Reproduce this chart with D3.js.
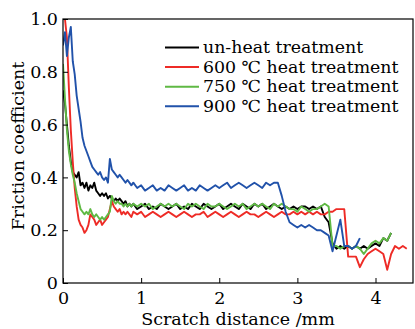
<!DOCTYPE html>
<html>
<head>
<meta charset="utf-8">
<script src="https://cdn.jsdelivr.net/npm/d3@7"></script>
<style>
  html, body { margin: 0; padding: 0; background: #fff; }
  svg { display: block; }
  text { font-family: "DejaVu Serif", serif; fill: #000; }
</style>
</head>
<body>
<svg id="chart" width="415" height="329"></svg>
<script>
// ---------- data ----------
const distance = [
  0,0.025,0.05,0.075,0.1,0.125,0.15,0.175,0.2,0.225,
  0.25,0.275,0.3,0.325,0.35,0.375,0.4,0.425,0.45,0.475,
  0.5,0.525,0.55,0.575,0.6,0.625,0.65,0.675,0.7,0.725,
  0.75,0.775,0.8,0.825,0.85,0.875,0.9,
  0.95,1.0,1.05,1.1,1.15,1.2,1.25,1.3,1.35,1.4,
  1.45,1.5,1.55,1.6,1.65,1.7,1.75,1.8,1.85,1.9,
  1.95,2.0,2.05,2.1,2.15,2.2,2.25,2.3,2.35,2.4,
  2.45,2.5,2.55,2.6,2.65,2.7,2.75,2.8,2.85,2.9,
  2.95,3.0,3.05,3.1,3.15,3.2,3.25,3.3,3.35,3.4,
  3.45,3.5,3.55,3.6,3.65,3.7,3.75,3.8,3.85,3.9,
  3.95,4.0,4.05,4.1,4.15,4.2,4.25,4.3,4.35,4.4,
  4.45
];

const unHeat = [
  0.73,0.68,0.60,0.52,0.46,0.42,0.41,0.40,0.42,0.37,
  0.38,0.36,0.38,0.35,0.37,0.36,0.38,0.35,0.34,0.33,
  0.34,0.33,0.34,0.32,0.33,0.32,0.31,0.32,0.31,0.32,
  0.31,0.30,0.31,0.29,0.30,0.29,0.30,
  0.28,0.29,0.30,0.28,0.29,0.28,0.30,0.29,0.28,0.29,
  0.30,0.28,0.29,0.28,0.30,0.29,0.28,0.30,0.29,0.28,
  0.29,0.30,0.28,0.29,0.30,0.29,0.28,0.30,0.29,0.28,
  0.30,0.29,0.30,0.28,0.29,0.30,0.29,0.28,0.29,0.28,
  0.29,0.28,0.29,0.29,0.28,0.29,0.28,0.29,0.25,0.23,
  0.15,0.13,0.14,0.13,0.14,0.13,0.14,0.13,0.14,0.13,
  0.14,0.15,0.14,0.17,0.16,0.19,null,null,null,null,
  null
];

const heat600 = [
  1.02,1.00,0.93,0.74,0.58,0.46,0.36,0.29,0.24,0.22,
  0.21,0.19,0.20,0.22,0.26,0.25,0.24,0.22,0.23,0.24,
  0.22,0.23,0.24,0.25,0.28,0.31,0.29,0.28,0.27,0.28,
  0.26,0.27,0.26,0.27,0.26,0.25,0.27,
  0.26,0.27,0.25,0.26,0.27,0.26,0.25,0.26,0.27,0.26,
  0.25,0.26,0.27,0.26,0.25,0.26,0.26,0.27,0.25,0.26,
  0.27,0.26,0.25,0.26,0.27,0.26,0.25,0.26,0.27,0.26,
  0.26,0.25,0.26,0.27,0.26,0.25,0.26,0.27,0.26,0.26,
  0.27,0.26,0.27,0.26,0.27,0.26,0.27,0.26,0.26,0.27,
  0.27,0.28,0.28,0.28,0.10,0.10,0.10,0.06,0.09,0.11,
  0.12,0.13,0.12,0.11,0.05,0.11,0.14,0.13,0.14,0.13,
  null
];

const heat750 = [
  0.83,0.70,0.58,0.50,0.45,0.41,0.38,0.34,0.31,0.28,
  0.27,0.26,0.27,0.26,0.28,0.26,0.25,0.26,0.25,0.24,
  0.25,0.24,0.25,0.26,0.27,0.33,0.31,0.30,0.31,0.30,
  0.30,0.29,0.30,0.29,0.30,0.29,0.30,
  0.29,0.30,0.29,0.30,0.28,0.29,0.30,0.29,0.30,0.29,
  0.30,0.29,0.28,0.30,0.29,0.30,0.29,0.28,0.30,0.29,
  0.29,0.30,0.29,0.28,0.29,0.30,0.29,0.30,0.28,0.29,
  0.30,0.29,0.30,0.29,0.28,0.30,0.29,0.30,0.29,0.28,
  0.28,0.27,0.29,0.28,0.27,0.28,0.28,0.29,0.30,0.29,
  0.14,0.14,0.13,0.14,0.14,0.13,0.14,0.13,0.11,0.13,
  0.15,0.16,0.15,0.17,0.16,0.19,null,null,null,null,
  null
];

const heat900 = [
  0.90,0.95,0.86,0.93,0.97,0.84,0.79,0.71,0.66,0.61,
  0.55,0.52,0.50,0.48,0.46,0.44,0.43,0.42,0.41,0.42,
  0.40,0.39,0.40,0.38,0.47,0.43,0.42,0.41,0.40,0.41,
  0.40,0.39,0.38,0.39,0.38,0.37,0.38,
  0.36,0.37,0.35,0.36,0.37,0.35,0.36,0.35,0.37,0.36,
  0.35,0.36,0.37,0.35,0.36,0.35,0.37,0.36,0.35,0.36,
  0.37,0.36,0.37,0.38,0.36,0.37,0.38,0.37,0.36,0.37,
  0.38,0.37,0.36,0.38,0.37,0.38,0.38,0.33,0.27,0.23,
  0.22,0.21,0.22,0.21,0.22,0.21,0.20,0.20,0.19,0.18,
  0.12,0.18,0.24,0.14,0.14,0.13,0.14,0.17,null,null,
  null,null,null,null,null,null,null,null,null,null,
  null
];

const seriesNames = ["un-heat treatment", "600 \u2103 heat treatment", "750 \u2103 heat treatment", "900 \u2103 heat treatment"];
const seriesValues = [unHeat, heat600, heat750, heat900];
const seriesColors = ["#000000", "#ee2b26", "#5fb944", "#2152aa"];
const xTicks = [0, 1, 2, 3, 4];
const yTicks = [0, 0.2, 0.4, 0.6, 0.8, 1.0];

// ---------- layout ----------
const svg = d3.select("#chart");
const L = 63, R = 413, T = 19, B = 283;
const FS = 17.5;
const LFS = 16.7;   // legend font size
const FONT = '"DejaVu Serif", serif';

const x = d3.scaleLinear().domain([0, 4.48]).range([L, R]);
const y = d3.scaleLinear().domain([0, 1]).range([B, T]);

svg.append("defs").append("clipPath").attr("id", "clip")
  .append("rect").attr("x", L).attr("y", T).attr("width", R - L).attr("height", B - T);

// lines
const line = d3.line()
  .defined(d => d[1] != null)
  .x(d => x(d[0]))
  .y(d => y(d[1]));

const g = svg.append("g").attr("clip-path", "url(#clip)");
seriesValues.forEach((vals, i) => {
  const pts = distance.map((dv, k) => [dv, vals[k]]);
  g.append("path")
    .datum(pts)
    .attr("fill", "none")
    .attr("stroke", seriesColors[i])
    .attr("stroke-width", 1.9)
    .attr("stroke-linejoin", "round")
    .attr("d", line);
});

// axes
const xAxis = d3.axisBottom(x).tickValues(xTicks).tickFormat(d3.format("d"))
  .tickSizeInner(-5).tickSizeOuter(0).tickPadding(9);
const yAxis = d3.axisLeft(y).tickValues(yTicks).tickFormat(d => d === 0 ? "0" : d3.format(".1f")(d))
  .tickSizeInner(-5).tickSizeOuter(0).tickPadding(5);

const gx = svg.append("g").attr("transform", `translate(0,${B})`).call(xAxis);
const gy = svg.append("g").attr("transform", `translate(${L},0)`).call(yAxis);
[gx, gy].forEach(a => {
  a.select(".domain").remove();
  a.selectAll("line").attr("stroke", "#000").attr("stroke-width", 1);
  a.selectAll("text").attr("font-family", FONT).attr("font-size", FS).attr("fill", "#000");
});

// frame
svg.append("rect").attr("x", L).attr("y", T).attr("width", R - L).attr("height", B - T)
  .attr("fill", "none").attr("stroke", "#000").attr("stroke-width", 1.2);

// axis titles
svg.append("text").attr("x", (L + R) / 2).attr("y", 324.5).attr("text-anchor", "middle")
  .attr("font-size", FS).text("Scratch distance /mm");
svg.append("text").attr("transform", "translate(24,146) rotate(-90)").attr("text-anchor", "middle")
  .attr("font-size", FS).text("Friction coefficient");

// legend
seriesNames.forEach((name, i) => {
  const yy = 47.5 + 19.6 * i;
  svg.append("line").attr("x1", 165).attr("x2", 199).attr("y1", yy).attr("y2", yy)
    .attr("stroke", seriesColors[i]).attr("stroke-width", 2);
  svg.append("g").attr("transform", `translate(203,${yy}) scale(1.04,1)`)
    .append("text").attr("dy", "0.34em").attr("font-size", LFS).text(name);
});
</script>
</body>
</html>
